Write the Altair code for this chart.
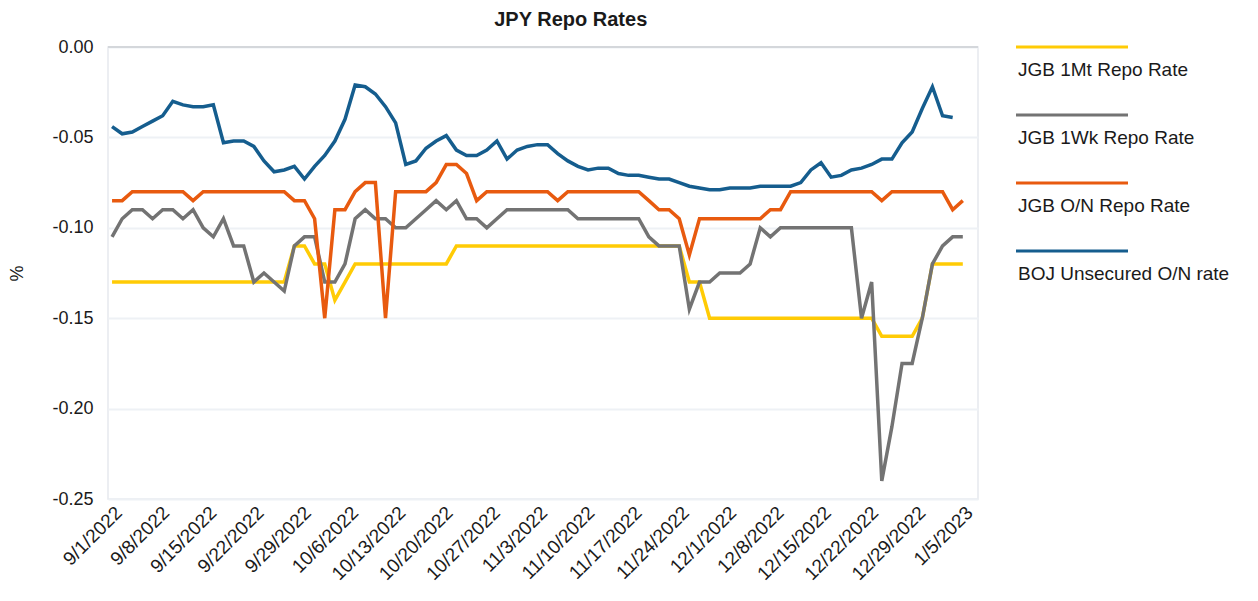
import altair as alt
import pandas as pd

# ---------------- data ----------------
series_names = ["JGB 1Mt Repo Rate", "JGB 1Wk Repo Rate", "JGB O/N Repo Rate", "BOJ Unsecured O/N rate"]
series_colors = ["#FFCB05", "#737373", "#E85A0F", "#155D8E"]

tick_labels = ["9/1/2022", "9/8/2022", "9/15/2022", "9/22/2022", "9/29/2022", "10/6/2022",
               "10/13/2022", "10/20/2022", "10/27/2022", "11/3/2022", "11/10/2022", "11/17/2022",
               "11/24/2022", "12/1/2022", "12/8/2022", "12/15/2022", "12/22/2022", "12/29/2022",
               "1/5/2023"]

jgb_1mt = [
    -0.13, -0.13, -0.13, -0.13, -0.13, -0.13, -0.13, -0.13, -0.13, -0.13,
    -0.13, -0.13, -0.13, -0.13, -0.13, -0.13, -0.13, -0.13, -0.11, -0.11,
    -0.12, -0.12, -0.14, -0.13, -0.12, -0.12, -0.12, -0.12, -0.12, -0.12,
    -0.12, -0.12, -0.12, -0.12, -0.11, -0.11, -0.11, -0.11, -0.11, -0.11,
    -0.11, -0.11, -0.11, -0.11, -0.11, -0.11, -0.11, -0.11, -0.11, -0.11,
    -0.11, -0.11, -0.11, -0.11, -0.11, -0.11, -0.11, -0.13, -0.13, -0.15,
    -0.15, -0.15, -0.15, -0.15, -0.15, -0.15, -0.15, -0.15, -0.15, -0.15,
    -0.15, -0.15, -0.15, -0.15, -0.15, -0.15, -0.16, -0.16, -0.16, -0.16,
    -0.15, -0.12, -0.12, -0.12, -0.12,
]

jgb_1wk = [
    -0.105, -0.095, -0.09, -0.09, -0.095, -0.09, -0.09, -0.095, -0.09, -0.10,
    -0.105, -0.095, -0.11, -0.11, -0.13, -0.125, -0.13, -0.135, -0.11, -0.105,
    -0.105, -0.13, -0.13, -0.12, -0.095, -0.09, -0.095, -0.095, -0.10, -0.10,
    -0.095, -0.09, -0.085, -0.09, -0.085, -0.095, -0.095, -0.10, -0.095, -0.09,
    -0.09, -0.09, -0.09, -0.09, -0.09, -0.09, -0.095, -0.095, -0.095, -0.095,
    -0.095, -0.095, -0.095, -0.105, -0.11, -0.11, -0.11, -0.145, -0.13, -0.13,
    -0.125, -0.125, -0.125, -0.12, -0.10, -0.105, -0.10, -0.10, -0.10, -0.10,
    -0.10, -0.10, -0.10, -0.10, -0.15, -0.13, -0.24, -0.21, -0.175, -0.175,
    -0.15, -0.12, -0.11, -0.105, -0.105,
]

jgb_on = [
    -0.085, -0.085, -0.08, -0.08, -0.08, -0.08, -0.08, -0.08, -0.085, -0.08,
    -0.08, -0.08, -0.08, -0.08, -0.08, -0.08, -0.08, -0.08, -0.085, -0.085,
    -0.095, -0.15, -0.09, -0.09, -0.08, -0.075, -0.075, -0.15, -0.08, -0.08,
    -0.08, -0.08, -0.075, -0.065, -0.065, -0.07, -0.085, -0.08, -0.08, -0.08,
    -0.08, -0.08, -0.08, -0.08, -0.085, -0.08, -0.08, -0.08, -0.08, -0.08,
    -0.08, -0.08, -0.08, -0.085, -0.09, -0.09, -0.095, -0.115, -0.095, -0.095,
    -0.095, -0.095, -0.095, -0.095, -0.095, -0.09, -0.09, -0.08, -0.08, -0.08,
    -0.08, -0.08, -0.08, -0.08, -0.08, -0.08, -0.085, -0.08, -0.08, -0.08,
    -0.08, -0.08, -0.08, -0.09, -0.085,
]

boj_on = [
    -0.044, -0.048, -0.047, -0.044, -0.041, -0.038, -0.030, -0.032, -0.033, -0.033,
    -0.032, -0.053, -0.052, -0.052, -0.055, -0.063, -0.069, -0.068, -0.066, -0.073,
    -0.066, -0.060, -0.052, -0.040, -0.021, -0.022, -0.026, -0.033, -0.042, -0.065,
    -0.063, -0.056, -0.052, -0.049, -0.057, -0.060, -0.060, -0.057, -0.052, -0.062,
    -0.057, -0.055, -0.054, -0.054, -0.059, -0.063, -0.066, -0.068, -0.067, -0.067,
    -0.070, -0.071, -0.071, -0.072, -0.073, -0.073, -0.075, -0.077, -0.078, -0.079,
    -0.079, -0.078, -0.078, -0.078, -0.077, -0.077, -0.077, -0.077, -0.075, -0.068,
    -0.064, -0.072, -0.071, -0.068, -0.067, -0.065, -0.062, -0.062, -0.053, -0.047,
    -0.034, -0.022, -0.038, -0.039,
]

# ---------------- build long table ----------------
rows = []
for name, vals in zip(series_names, [jgb_1mt, jgb_1wk, jgb_on, boj_on]):
    for i, v in enumerate(vals):
        rows.append({"idx": i, "value": v, "series": name})
df = pd.DataFrame(rows)

n_steps = len(jgb_1mt) - 1           # index of last observation (1/5/2023)
n_weeks = len(tick_labels) - 1
tick_pos = [k * n_steps / n_weeks for k in range(len(tick_labels))]
label_arr = "[" + ",".join("'" + t + "'" for t in tick_labels) + "]"

FONT = "Liberation Sans"
TXT = "#1a1a1a"

color_scale = alt.Scale(domain=series_names, range=series_colors)

x_enc = alt.X(
    "idx:Q",
    scale=alt.Scale(domain=[-0.4, n_steps + 1.5], nice=False, zero=False),
    axis=alt.Axis(
        values=tick_pos,
        labelExpr=f"{label_arr}[round(datum.value * {n_weeks} / {n_steps})]",
        labelAngle=-45, labelAlign="right", labelBaseline="top",
        labelOverlap=False, labelFlush=False, labelPadding=4, labelFontSize=19,
        grid=False, ticks=False, domain=False, title=None,
    ),
)
y_enc = alt.Y(
    "value:Q",
    scale=alt.Scale(domain=[-0.25, 0], nice=False),
    axis=alt.Axis(
        values=[0, -0.05, -0.10, -0.15, -0.20, -0.25],
        labelExpr="replace(format(datum.value, '.2f'), '\u2212', '-')",
        title="%", titlePadding=25, titleFontWeight="normal", titleFontSize=18,
        labelPadding=15, labelFlush=False,
        grid=True, gridColor="#EEF1F5", gridWidth=2,
        ticks=False, domain=False,
    ),
)

zero_rule = alt.Chart(pd.DataFrame({"value": [0.0]})).mark_rule(
    color="#D4D7DB", strokeWidth=2
).encode(y=alt.Y("value:Q", scale=alt.Scale(domain=[-0.25, 0], nice=False)))

lines = alt.Chart(df).mark_line(strokeWidth=3.5).encode(
    x=x_enc,
    y=y_enc,
    color=alt.Color("series:N", scale=color_scale, legend=None),
    order=alt.Order("idx:Q"),
)

main = alt.layer(lines, zero_rule).properties(width=870, height=452)

# ---------------- custom legend (symbol above label) ----------------
leg_df = pd.DataFrame({"series": series_names})
leg_y = alt.Y("series:N", sort=series_names, axis=None,
              scale=alt.Scale(type="point", padding=0))
leg_rule = alt.Chart(leg_df).mark_rule(strokeWidth=3).encode(
    y=leg_y, x=alt.value(0), x2=alt.value(112),
    color=alt.Color("series:N", scale=color_scale, legend=None),
)
leg_text = alt.Chart(leg_df).mark_text(
    align="left", baseline="middle", dx=2, dy=23, fontSize=19, font=FONT, color=TXT
).encode(y=leg_y, x=alt.value(0), text="series:N")
legend = alt.layer(leg_rule, leg_text).properties(
    width=225, height=204, view=alt.ViewBackground(strokeOpacity=0)
)

chart = alt.hconcat(main, legend, spacing=34).properties(
    title=alt.TitleParams(
        "JPY Repo Rates", anchor="start", dx=486, offset=7,
        fontSize=20, fontWeight="bold", font=FONT, color=TXT,
    ),
    padding={"left": 0, "top": 2, "right": 5, "bottom": 0},
).configure_view(
    stroke="#E6E9EE", strokeWidth=1.5
).configure_axis(
    labelFont=FONT, titleFont=FONT, labelFontSize=18, labelColor=TXT, titleColor=TXT,
)

chart.save("out.html", embed_options={"renderer": "svg", "actions": False})
